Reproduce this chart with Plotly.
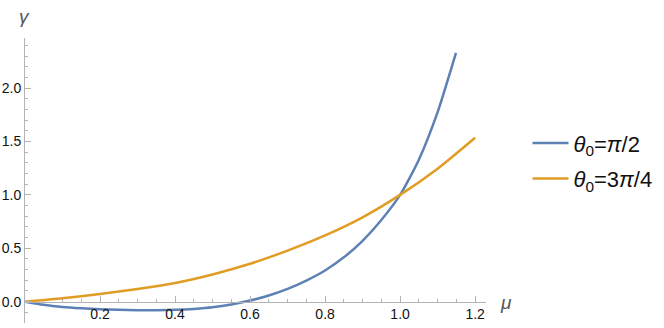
import plotly.graph_objects as go

# Data
mu_blue = [0.0, 0.05, 0.1, 0.15, 0.2, 0.25, 0.3, 0.35, 0.4, 0.45, 0.5, 0.55,
           0.6, 0.65, 0.7, 0.75, 0.8, 0.85, 0.9, 0.95, 1.0, 1.05, 1.1, 1.149]
gamma_blue = [0.0, -0.030, -0.050, -0.062, -0.071, -0.077, -0.080, -0.080,
              -0.077, -0.068, -0.053, -0.027, 0.010, 0.058, 0.120, 0.198,
              0.292, 0.415, 0.570, 0.765, 1.000, 1.330, 1.775, 2.330]

mu_orange = [0.0, 0.1, 0.2, 0.3, 0.4, 0.5, 0.6, 0.7, 0.8, 0.9, 1.0, 1.1, 1.2]
gamma_orange = [0.0, 0.031, 0.072, 0.118, 0.175, 0.255, 0.355, 0.478, 0.620,
                0.790, 1.000, 1.245, 1.535]

series_names = ["<i>θ</i><sub>0</sub>=<i>π</i>/2", "<i>θ</i><sub>0</sub>=3<i>π</i>/4"]
x_tick_vals = [0.2, 0.4, 0.6, 0.8, 1.0, 1.2]
y_tick_vals = [0.0, 0.5, 1.0, 1.5, 2.0]

x_range = [0.0, 1.229]
y_range = [-0.2, 2.47]

BLUE = "#5E81B5"
ORANGE = "#E19C24"
AXIS = "#b3b3b3"
FONT = "Liberation Sans, Arial, sans-serif"

fig = go.Figure()
fig.add_trace(go.Scatter(x=mu_blue, y=gamma_blue, mode="lines", name=series_names[0],
                         legendgroup="a",
                         line=dict(color=BLUE, width=2.5, shape="spline", smoothing=0.6)))
fig.add_trace(go.Scatter(x=mu_orange, y=gamma_orange, mode="lines", name=series_names[1],
                         legendgroup="b",
                         line=dict(color=ORANGE, width=2.5, shape="spline", smoothing=0.6)))

zero_pos = (0 - y_range[0]) / (y_range[1] - y_range[0])

fig.update_layout(
    width=664, height=328,
    margin=dict(l=25, r=178, t=38, b=5),
    paper_bgcolor="white", plot_bgcolor="white",
    font=dict(family=FONT, color="#111111", size=14),
    xaxis=dict(range=x_range, showgrid=False, zeroline=False, automargin=False,
               showline=True, linecolor=AXIS, linewidth=1,
               anchor="free", position=zero_pos,
               tickvals=x_tick_vals, ticktext=[f"{v:.1f}" for v in x_tick_vals],
               ticks="inside", ticklen=6, tickcolor=AXIS, tickwidth=1,
               minor=dict(dtick=0.05, tick0=0, ticks="inside", ticklen=3,
                          tickcolor=AXIS, showgrid=False),
               tickfont=dict(size=14, color="#111111")),
    yaxis=dict(range=y_range, showgrid=False, zeroline=False, automargin=False,
               showline=True, linecolor=AXIS, linewidth=1,
               tickvals=y_tick_vals, ticktext=[f"{v:.1f}" for v in y_tick_vals],
               ticks="inside", ticklen=6, tickcolor=AXIS, tickwidth=1,
               minor=dict(dtick=0.1, tick0=0, ticks="inside", ticklen=3,
                          tickcolor=AXIS, showgrid=False),
               tickfont=dict(size=14, color="#111111")),
    legend=dict(x=1.09, y=0.568, xanchor="left", yanchor="middle",
                traceorder="grouped", tracegroupgap=4,
                font=dict(size=22, color="#111111", family=FONT),
                bgcolor="rgba(0,0,0,0)", itemwidth=36),
    annotations=[
        dict(text="<i>γ</i>", xref="paper", yref="paper", x=-0.002, y=1.075,
             xanchor="center", yanchor="middle", showarrow=False,
             font=dict(size=19, color="#555555", family=FONT)),
        dict(text="<i>μ</i>", xref="paper", yref="y", x=1.026, y=-0.01,
             xanchor="left", yanchor="middle", showarrow=False,
             font=dict(size=19, color="#555555", family=FONT)),
    ],
)

fig.write_html("out.html",
               config={"displayModeBar": False},
               post_script="document.body.style.margin='0';document.body.style.padding='0';")
